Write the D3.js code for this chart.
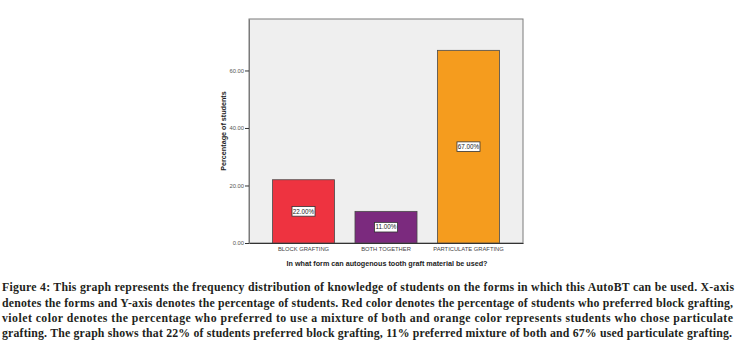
<!DOCTYPE html>
<html><head><meta charset="utf-8">
<script src="https://cdn.jsdelivr.net/npm/d3@7"></script>
<style>body{margin:0;background:#fff}svg{display:block}</style>
</head><body>
<script>
const categories = ["BLOCK GRAFTING", "BOTH TOGETHER", "PARTICULATE GRAFTING"];
const values = [22, 11, 67];
const valueLabels = ["22.00%", "11.00%", "67.00%"];
const barColors = ["#ee3340", "#7b2a7e", "#f59c1e"];
const yTicks = [0, 20, 40, 60];
const yTitle = "Percentage of students";
const xTitle = "In what form can autogenous tooth graft material be used?";
const captionLines = [
  "Figure 4: This graph represents the frequency distribution of knowledge of students on the forms in which this AutoBT can be used. X-axis",
  "denotes the forms and Y-axis denotes the percentage of students. Red color denotes the percentage of students who preferred block grafting,",
  "violet color denotes the percentage who preferred to use a mixture of both and orange color represents students who chose particulate",
  "grafting. The graph shows that 22% of students preferred block grafting, 11% preferred mixture of both and 67% used particulate grafting."
];

const W = 742, H = 347;
const svg = d3.select("body").append("svg").attr("width", W).attr("height", H);
const plot = {left: 249, right: 523, top: 19, bottom: 243};

const x = d3.scaleBand().domain(categories).range([plot.left, plot.right])
  .paddingInner(0.248).paddingOuter(0.285);
const y = d3.scaleLinear().domain([0, 77.9]).range([plot.bottom, plot.top]);

svg.append("rect").attr("x", plot.left).attr("y", plot.top)
  .attr("width", plot.right - plot.left).attr("height", plot.bottom - plot.top)
  .attr("fill", "#efefef").attr("stroke", "#7a7a7a").attr("stroke-width", 1);

svg.selectAll("rect.bar").data(values).join("rect").attr("class", "bar")
  .attr("x", (d, i) => x(categories[i]))
  .attr("y", d => y(d))
  .attr("width", x.bandwidth())
  .attr("height", d => y(0) - y(d))
  .attr("fill", (d, i) => barColors[i])
  .attr("stroke", "#4a4a4a").attr("stroke-width", 0.8);

// y axis
const yAxis = svg.append("g").attr("transform", `translate(${plot.left},0)`)
  .call(d3.axisLeft(y).tickValues(yTicks).tickFormat(d3.format(".2f"))
    .tickSize(4).tickSizeOuter(0).tickPadding(1));
yAxis.select(".domain").attr("stroke", "#7a7a7a");
yAxis.selectAll(".tick line").attr("stroke", "#333");
yAxis.selectAll("text").attr("font-family", "Liberation Sans, Arial, sans-serif")
  .attr("font-size", 5.8).attr("fill", "#555");

// x axis
const xAxis = svg.append("g").attr("transform", `translate(0,${plot.bottom})`)
  .call(d3.axisBottom(x).tickSize(0).tickPadding(4));
xAxis.select(".domain").attr("stroke", "#333");
xAxis.selectAll("text").attr("font-family", "Liberation Sans, Arial, sans-serif")
  .attr("font-size", 5.8).attr("fill", "#444");

// value labels
const lab = svg.selectAll("g.lab").data(values).join("g").attr("class", "lab")
  .attr("transform", (d, i) => `translate(${x(categories[i]) + x.bandwidth() / 2},${(y(d) + y(0)) / 2})`);
lab.append("rect").attr("x", -11.5).attr("y", -4.8).attr("width", 23).attr("height", 9.6)
  .attr("fill", "#fff").attr("stroke", "#333").attr("stroke-width", 0.8);
lab.append("text").attr("text-anchor", "middle").attr("dy", "0.35em")
  .attr("font-family", "Liberation Sans, Arial, sans-serif").attr("font-size", 6.3)
  .attr("fill", "#222").text((d, i) => valueLabels[i]);

// titles
svg.append("text").attr("transform", `translate(223,${131}) rotate(-90)`)
  .attr("text-anchor", "middle").attr("dy", "0.35em")
  .attr("font-family", "Liberation Sans, Arial, sans-serif").attr("font-size", 7.2)
  .attr("font-weight", "bold").attr("fill", "#222").text(yTitle);
svg.append("text").attr("x", 387).attr("y", 263).attr("text-anchor", "middle").attr("dy", "0.35em")
  .attr("font-family", "Liberation Sans, Arial, sans-serif").attr("font-size", 7.2)
  .attr("font-weight", "bold").attr("fill", "#222").text(xTitle);

// caption
const capY = [291, 306.5, 322, 336.5];
const capLen = [732, 731, 731, 730];
svg.selectAll("text.cap").data(captionLines).join("text").attr("class", "cap")
  .attr("x", 2).attr("y", (d, i) => capY[i])
  .attr("textLength", (d, i) => capLen[i]).attr("lengthAdjust", "spacing")
  .attr("font-family", "Liberation Serif, DejaVu Serif, serif").attr("font-size", 11.8)
  .attr("font-weight", "bold").attr("fill", "#231f20").text(d => d);
</script>
</body></html>
